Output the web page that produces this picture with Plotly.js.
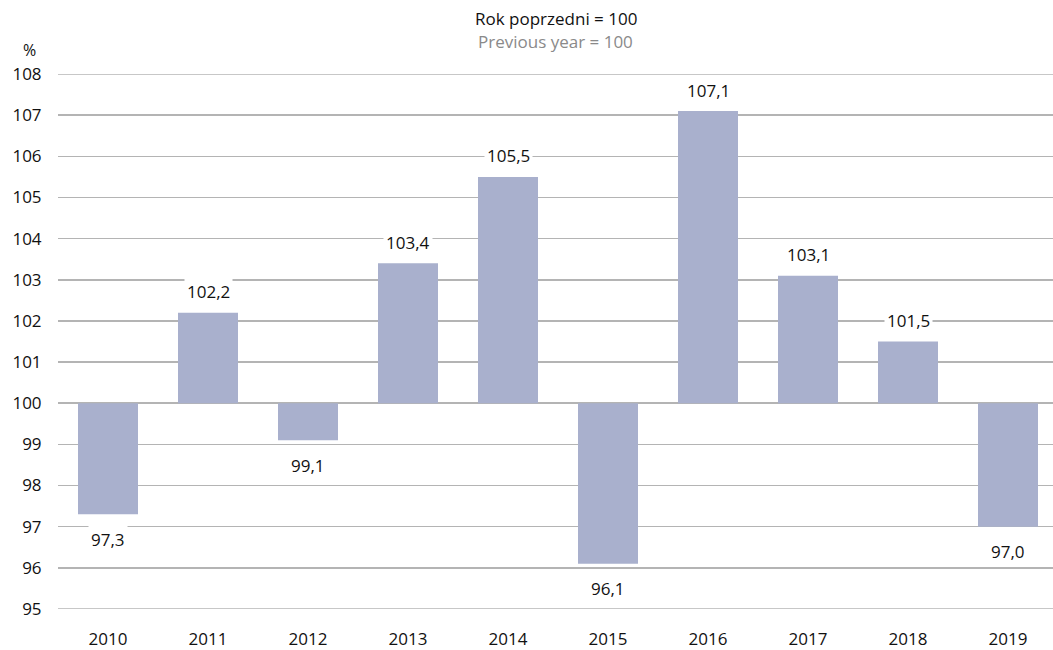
<!DOCTYPE html>
<html>
<head>
<meta charset="utf-8">
<script src="https://cdn.plot.ly/plotly-3.0.1.min.js"></script>
<style>html,body{margin:0;padding:0;background:#fff;}#chart{width:1053px;height:650px;}</style>
</head>
<body>
<div id="chart"></div>
<script>
const years = ['2010','2011','2012','2013','2014','2015','2016','2017','2018','2019'];
const values = [97.3, 102.2, 99.1, 103.4, 105.5, 96.1, 107.1, 103.1, 101.5, 97.0];
const labels = ['97,3','102,2','99,1','103,4','105,5','96,1','107,1','103,1','101,5','97,0'];
const baseValue = 100;
const yTicks = [95,96,97,98,99,100,101,102,103,104,105,106,107,108];

const FONT = 'Open Sans, Noto Sans, sans-serif';

const trace = {
  type: 'bar',
  x: years.map((_, i) => i),
  y: values.map(v => v - baseValue),
  base: values.map(() => baseValue),
  marker: {color: '#a9b0cd'},
  width: 0.6,
  hoverinfo: 'skip'
};

const annotations = values.map((v, i) => ({
  x: i, y: v, xref: 'x', yref: 'y',
  text: labels[i], showarrow: false,
  yshift: v >= baseValue ? 21 : -25,
  bgcolor: '#ffffff', borderpad: 2,
  font: {family: FONT, size: 17, color: '#111'}
}));

annotations.push(
  {xref: 'paper', yref: 'paper', x: 0.5, y: 1, xanchor: 'center', yanchor: 'middle',
   yshift: 56, text: 'Rok poprzedni = 100', showarrow: false,
   font: {family: FONT, size: 17, color: '#111'}},
  {xref: 'paper', yref: 'paper', x: 0.5, y: 1, xanchor: 'center', yanchor: 'middle',
   yshift: 33, text: 'Previous year = 100', showarrow: false,
   font: {family: FONT, size: 17, color: '#8a8a8a'}},
  {xref: 'paper', yref: 'paper', x: 0, y: 1, xanchor: 'center', yanchor: 'middle',
   xshift: -29, yshift: 24, text: '%', showarrow: false,
   font: {family: FONT, size: 16, color: '#111'}}
);

const edgeLines = [yTicks[0], yTicks[yTicks.length - 1]].map(v => ({
  type: 'line', xref: 'paper', yref: 'y', x0: 0, x1: 1, y0: v, y1: v,
  line: {color: '#b4b4b4', width: 1.5}, layer: 'below'
}));

const layout = {
  width: 1053, height: 650,
  margin: {l: 58, r: 0, t: 74, b: 41},
  paper_bgcolor: '#fff', plot_bgcolor: '#fff',
  showlegend: false,
  xaxis: {
    range: [-0.5, 9.45],
    tickmode: 'array', tickvals: years.map((_, i) => i), ticktext: years,
    showgrid: false, zeroline: false, showline: false,
    ticks: 'outside', ticklen: 15, tickcolor: 'rgba(0,0,0,0)',
    tickfont: {family: FONT, size: 17, color: '#111'},
    fixedrange: true
  },
  yaxis: {
    range: [95, 108],
    tickmode: 'array', tickvals: yTicks, ticktext: yTicks.map(String),
    showgrid: true, gridcolor: '#b4b4b4', gridwidth: 1.5,
    zeroline: false, showline: false,
    ticks: 'outside', ticklen: 12, tickcolor: 'rgba(0,0,0,0)',
    tickfont: {family: FONT, size: 17, color: '#111'},
    fixedrange: true
  },
  shapes: edgeLines.concat([{
    type: 'line', xref: 'paper', yref: 'y', x0: 0, x1: 1, y0: baseValue, y1: baseValue,
    line: {color: '#777777', width: 1.5}, layer: 'below'
  }]),
  annotations: annotations
};

Plotly.newPlot('chart', [trace], layout, {displayModeBar: false, staticPlot: true});
</script>
</body>
</html>
